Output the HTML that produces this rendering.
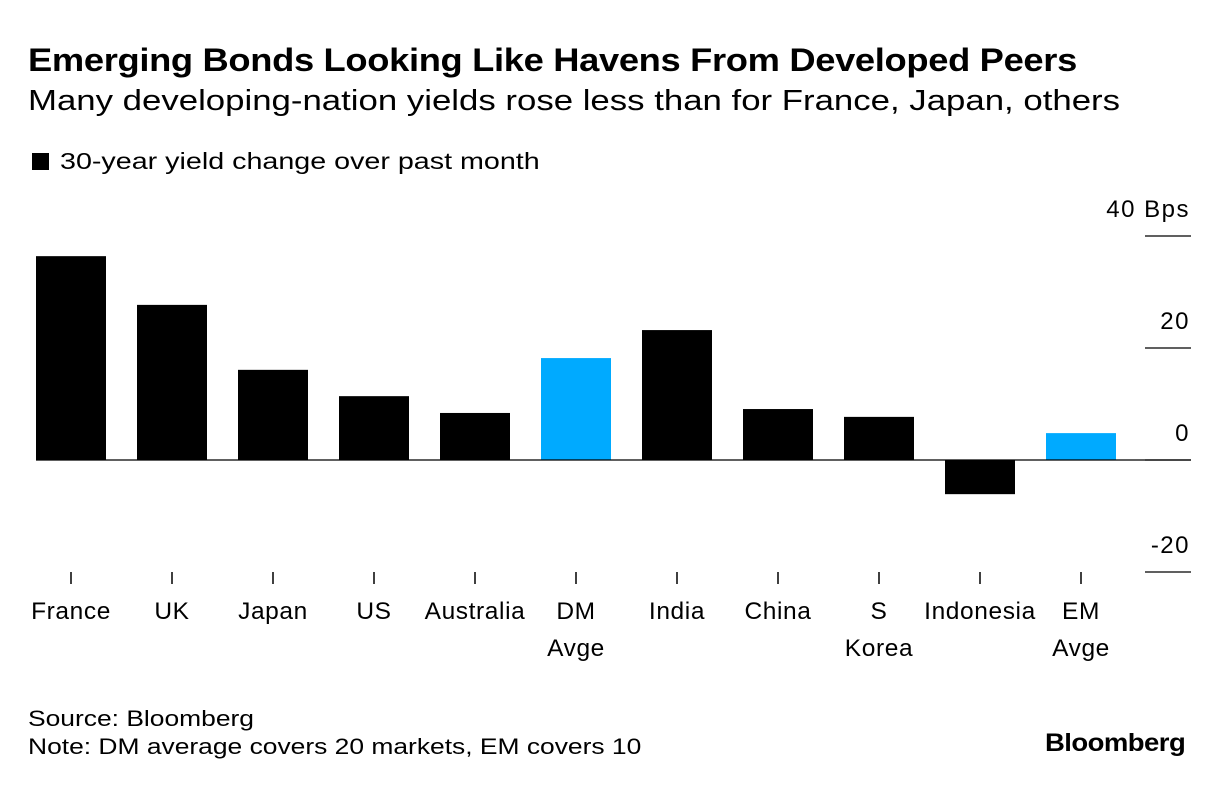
<!DOCTYPE html>
<html><head><meta charset="utf-8">
<style>
body{margin:0;background:#fff;font-family:"Liberation Sans",Arial,sans-serif;color:#000}
#wrap{position:relative;width:1224px;height:788px;overflow:hidden}
.t{position:absolute;white-space:nowrap;transform-origin:0 50%}
</style></head><body>
<div id="wrap">
<div class="t" style="left:28px;top:42px;font-size:32px;font-weight:bold;letter-spacing:-0.3px;transform:scaleX(1.135)">Emerging Bonds Looking Like Havens From Developed Peers</div>
<div class="t" style="left:28px;top:85px;font-size:28.5px;transform:scaleX(1.22)">Many developing-nation yields rose less than for France, Japan, others</div>
<div class="t" style="left:32px;top:148px;font-size:23.5px"><span style="display:inline-block;width:17px;height:17px;background:#000;margin-right:11px;vertical-align:-1px"></span><span style="display:inline-block;transform:scaleX(1.22);transform-origin:0 50%">30-year yield change over past month</span></div>
<svg id="chart" width="1224" height="700" style="position:absolute;left:0;top:0"></svg>
<div class="t" style="left:28px;top:706px;font-size:22px;transform:scaleX(1.2)">Source: Bloomberg</div>
<div class="t" style="left:28px;top:734px;font-size:22px;transform:scaleX(1.2)">Note: DM average covers 20 markets, EM covers 10</div>
<div class="t" style="left:1045px;top:729px;font-size:25px;font-weight:bold;letter-spacing:-0.5px;transform:scaleX(1.1)">Bloomberg</div>
</div>
<script>
const categories=[["France"],["UK"],["Japan"],["US"],["Australia"],["DM","Avge"],["India"],["China"],["S","Korea"],["Indonesia"],["EM","Avge"]];
const values=[36.4,27.7,16.1,11.4,8.4,18.2,23.2,9.1,7.7,-6.1,4.8];
const highlight=[false,false,false,false,false,true,false,false,false,false,true];
const ticks=[40,20,0,-20];
const tickLabels=["40 Bps","20","0","-20"];
const svg=document.getElementById('chart');
const NS='http://www.w3.org/2000/svg';
const y=v=>460-v*5.6;
const xc=i=>71+i*101;
function mk(t,a){const e=document.createElementNS(NS,t);for(const k in a)e.setAttribute(k,a[k]);svg.appendChild(e);return e;}
ticks.forEach((v,i)=>{
 const l=mk('line',{x1:1145,x2:1191,y1:y(v),y2:y(v),stroke:'#000','stroke-width':1.3});
 
 
 const t=mk('text',{x:1190,y:y(v)-19,'text-anchor':'end','font-size':24,'letter-spacing':1.5,'font-family':'Liberation Sans, sans-serif'});
 t.textContent=tickLabels[i];
 
 
});
values.forEach((v,i)=>{
 const r=mk('rect',{x:xc(i)-35,width:70,y:Math.min(y(v),y(0)),height:Math.abs(y(v)-y(0)),fill:highlight[i]?'#00aaff':'#000'});
 
 
 const tk=mk('line',{x1:xc(i),x2:xc(i),y1:572,y2:584,stroke:'#000','stroke-width':1.5});
 
 
 categories[i].forEach((s,j)=>{
  const t=mk('text',{x:xc(i),y:619+j*37,'text-anchor':'middle','font-size':24.5,'letter-spacing':0.6,'font-family':'Liberation Sans, sans-serif'});
  t.textContent=s;
  
  
 });
});
const z=mk('line',{x1:36,x2:1191,y1:y(0),y2:y(0),stroke:'#000','stroke-width':1.3});


</script>
</body></html>
